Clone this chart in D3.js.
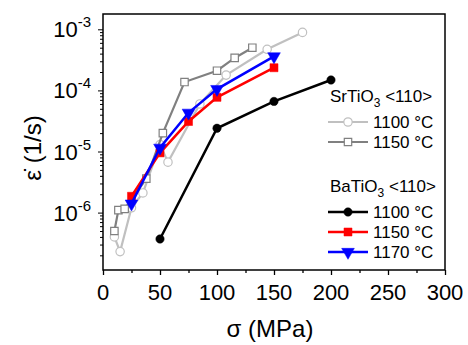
<!DOCTYPE html>
<html>
<head>
<meta charset="utf-8">
<script src="https://cdn.jsdelivr.net/npm/d3@7"></script>
<style>
  body { margin: 0; background: #fff; }
  text { font-family: "Liberation Sans", Arial, sans-serif; fill: #000; }
</style>
</head>
<body>
<div id="chart"></div>
<script>
// data (stress in MPa, strain rate in 1/s)
var srt1100Stress = [10, 15, 25, 35, 50, 57, 85, 108, 144, 175];
var srt1100Rate = [4e-7, 2.3e-7, 1.2e-6, 2.1e-6, 1.3e-5, 6.7e-6, 6e-5, 1.78e-4, 4.7e-4, 8.9e-4];
var srt1150Stress = [10, 13.5, 19, 38, 52.5, 71.5, 100, 115.5, 131];
var srt1150Rate = [5e-7, 1.1e-6, 1.15e-6, 3.6e-6, 2e-5, 1.37e-4, 2.1e-4, 3.4e-4, 5e-4];
var bto1100Stress = [50, 100, 150, 200];
var bto1100Rate = [3.7e-7, 2.4e-5, 6.6e-5, 1.48e-4];
var bto1150Stress = [25, 50, 75, 100, 150];
var bto1150Rate = [1.85e-6, 9.5e-6, 3.1e-5, 7.7e-5, 2.35e-4];
var bto1170Stress = [25, 50, 75, 100, 150];
var bto1170Rate = [1.4e-6, 1.15e-5, 4.3e-5, 1.05e-4, 3.6e-4];

var xTicks = [0, 50, 100, 150, 200, 250, 300];
var yTickExp = [-3, -4, -5, -6];

// plot box
var margin = { top: 14, right: 23, bottom: 75, left: 103 },
  width = 468 - margin.left - margin.right,
  height = 345 - margin.top - margin.bottom;

var x = d3.scaleLinear().domain([0, 300]).range([0, width]);
var y = d3.scaleLog().domain([1.15e-7, 1.78e-3]).range([height, 0]);

var svg = d3.select("#chart").append("svg")
  .attr("width", 468)
  .attr("height", 345);
svg.append("rect").attr("width", 468).attr("height", 345).attr("fill", "#fff");

var g = svg.append("g")
  .attr("transform", "translate(" + margin.left + "," + margin.top + ")");

// x axis
var xAxis = d3.axisBottom(x).tickValues(d3.range(0, 301, 25))
  .tickSize(5).tickFormat("");
g.append("g").attr("transform", "translate(0," + height + ")").call(xAxis)
  .call(function (a) {
    a.select(".domain").remove();
    a.selectAll("line").attr("stroke-width", 1.3)
      .attr("y2", function (d) { return d % 50 === 0 ? 5 : 3; });
  });
g.selectAll(".xlab").data(xTicks).enter().append("text")
  .attr("class", "xlab")
  .attr("x", function (d) { return x(d); })
  .attr("y", height + 30)
  .attr("text-anchor", "middle")
  .style("font-size", "22px")
  .text(function (d) { return d; });

// y axis with log minor ticks
var minor = [];
for (var e = -7; e <= -3; e++) {
  for (var m = 1; m <= 9; m++) {
    var v = m * Math.pow(10, e);
    if (v >= 1.15e-7 && v <= 1.78e-3) minor.push(v);
  }
}
var yAxis = d3.axisLeft(y).tickValues(minor).tickSize(3).tickFormat("");
g.append("g").call(yAxis).call(function (a) {
  a.select(".domain").remove();
  a.selectAll("line").attr("stroke-width", 1)
    .attr("x2", function (d) { return Math.abs(Math.log10(d) - Math.round(Math.log10(d))) < 1e-9 ? -5 : -3; });
});
var ylab = g.selectAll(".ylab").data(yTickExp).enter().append("text")
  .attr("class", "ylab")
  .attr("x", -12)
  .attr("y", function (d) { return y(Math.pow(10, d)) + 8; })
  .attr("text-anchor", "end")
  .style("font-size", "22px");
ylab.append("tspan").text("10");
ylab.append("tspan").attr("dy", -10).style("font-size", "15px").text(function (d) { return d; });

// frame
g.append("rect").attr("width", width).attr("height", height)
  .attr("fill", "none").attr("stroke", "#000").attr("stroke-width", 1.5);

// axis titles
svg.append("text")
  .attr("x", margin.left + width / 2 - 4)
  .attr("y", 337)
  .attr("text-anchor", "middle")
  .style("font-size", "24px")
  .text("σ (MPa)");
svg.append("text")
  .attr("transform", "translate(41,148) rotate(-90)")
  .attr("text-anchor", "middle")
  .style("font-size", "24px")
  .text("ε̇ (1/s)");

// series
var series = [
  { stress: srt1100Stress, rate: srt1100Rate, color: "#c0c0c0", fill: "#fff", shape: d3.symbolCircle, size: 55, lw: 2.2 },
  { stress: srt1150Stress, rate: srt1150Rate, color: "#808080", fill: "#fff", shape: d3.symbolSquare, size: 55, lw: 2.2 },
  { stress: bto1100Stress, rate: bto1100Rate, color: "#000", fill: "#000", shape: d3.symbolCircle, size: 55, lw: 2.5 },
  { stress: bto1150Stress, rate: bto1150Rate, color: "#ff0000", fill: "#ff0000", shape: d3.symbolSquare, size: 65, lw: 2.5 },
  { stress: bto1170Stress, rate: bto1170Rate, color: "#0000ff", fill: "#0000ff", shape: "tri", size: 70, lw: 2.5 }
];
var triDown = d3.symbol().type(d3.symbolTriangle).size(70)();

var line = d3.line()
  .x(function (d) { return x(d[0]); })
  .y(function (d) { return y(d[1]); });

function marker(sel, s) {
  var p = s.shape === "tri" ? triDown : d3.symbol().type(s.shape).size(s.size)();
  sel.append("path").attr("d", p)
    .attr("fill", s.fill)
    .attr("stroke", s.color)
    .attr("stroke-width", s.fill === "#fff" ? 1.2 : 0.5);
}

series.forEach(function (s) {
  var pts = d3.zip(s.stress, s.rate);
  g.append("path").datum(pts).attr("d", line)
    .attr("fill", "none").attr("stroke", s.color).attr("stroke-width", s.lw);
  g.selectAll(null).data(pts).enter().append("g")
    .attr("transform", function (d) {
      return "translate(" + x(d[0]) + "," + y(d[1]) + ")" + (s.shape === "tri" ? " rotate(180)" : "");
    })
    .each(function () { marker(d3.select(this), s); });
});

// legend
var legTitles = [{ name: "SrTiO", y: 96 }, { name: "BaTiO", y: 186 }];
var legRows = [
  { s: 0, label: "1100 °C", y: 122 },
  { s: 1, label: "1150 °C", y: 142 },
  { s: 2, label: "1100 °C", y: 212 },
  { s: 3, label: "1150 °C", y: 232 },
  { s: 4, label: "1170 °C", y: 252 }
];
legTitles.forEach(function (t) {
  var tx = svg.append("text").attr("x", 330).attr("y", t.y + 6).style("font-size", "17px");
  tx.append("tspan").text(t.name);
  tx.append("tspan").attr("dy", 5).style("font-size", "12px").text("3");
  tx.append("tspan").attr("dy", -5).text(" <110>");
});
legRows.forEach(function (r) {
  var s = series[r.s];
  svg.append("line").attr("x1", 328).attr("x2", 368).attr("y1", r.y).attr("y2", r.y)
    .attr("stroke", s.color).attr("stroke-width", s.lw);
  var mg = svg.append("g").attr("transform", "translate(348," + r.y + ")" + (s.shape === "tri" ? " rotate(180)" : ""));
  marker(mg, s);
  svg.append("text").attr("x", 373).attr("y", r.y + 6).style("font-size", "17px").text(r.label);
});
</script>
</body>
</html>
